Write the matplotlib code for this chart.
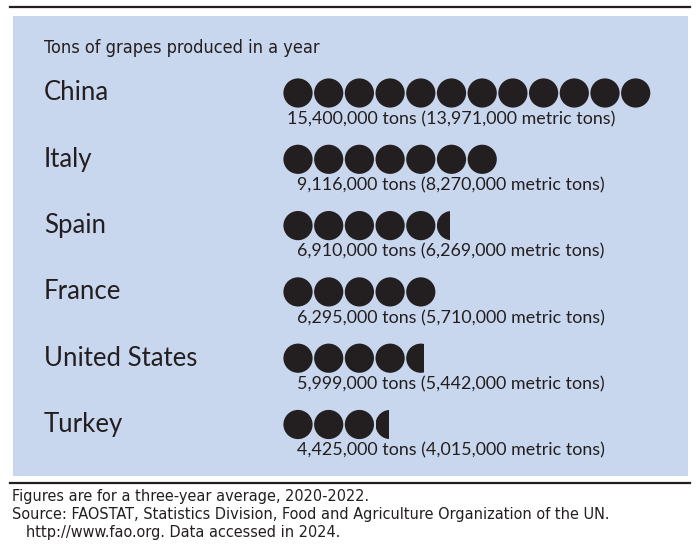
import matplotlib.pyplot as plt
from matplotlib.patches import Circle, Rectangle

countries = ['China', 'Italy', 'Spain', 'France', 'United States', 'Turkey']
tons = ['15,400,000', '9,116,000', '6,910,000', '6,295,000', '5,999,000', '4,425,000']
metric_tons = ['13,971,000', '8,270,000', '6,269,000', '5,710,000', '5,442,000', '4,015,000']
# number of grape icons shown for each country
icons = [12, 7, 5.45, 5, 4.6, 3.45]

title = 'Tons of grapes produced in a year'
notes = ['Figures are for a three-year average, 2020-2022.',
         'Source: FAOSTAT, Statistics Division, Food and Agriculture Organization of the UN.',
         '   http://www.fao.org. Data accessed in 2024.']

plt.rcParams['font.family'] = ['Lato', 'DejaVu Sans']

fig = plt.figure(figsize=(7, 5.49), dpi=100)
ax = fig.add_axes([0, 0, 1, 1])
ax.set_xlim(0, 700)
ax.set_ylim(549, 0)
ax.set_aspect('equal')
ax.axis('off')

bg = '#c8d7ee'
dark = '#231f20'

ax.plot([10, 690], [6.5, 6.5], color=dark, lw=1.6)
ax.add_patch(Rectangle((13, 16), 675, 460, facecolor=bg, edgecolor='none'))
ax.plot([10, 690], [483, 483], color=dark, lw=1.6)

ax.text(44, 48, title, fontsize=13, color=dark, va='center', ha='left',
        family='DejaVu Sans', stretch='condensed')

row_y0 = 93
row_step = 66.3
x0 = 298
pitch = 30.7
r = 14.6

for i, name in enumerate(countries):
    y = row_y0 + i * row_step
    ax.text(44, y, name, fontsize=18.5, color=dark, va='center', ha='left')
    n = icons[i]
    k = 0
    while k < n:
        cx = x0 + k * pitch
        c = Circle((cx, y), r, facecolor=dark, edgecolor='none')
        ax.add_patch(c)
        frac = n - k
        if frac < 1:
            clip = Rectangle((cx - r, y - r - 1), 2 * r * frac, 2 * r + 2,
                             transform=ax.transData, facecolor='none', edgecolor='none')
            ax.add_patch(clip)
            c.set_clip_path(clip)
        k += 1
    ax.text(451, y + 26, '{} tons ({} metric tons)'.format(tons[i], metric_tons[i]),
            fontsize=12.9, color=dark, va='center', ha='center')

for j, line in enumerate(notes):
    ax.text(12, 497 + j * 17.5, line, fontsize=11.6, color=dark, va='center',
            ha='left', family='DejaVu Sans', stretch='condensed')

fig.savefig('out.png', dpi=100, facecolor='white')
